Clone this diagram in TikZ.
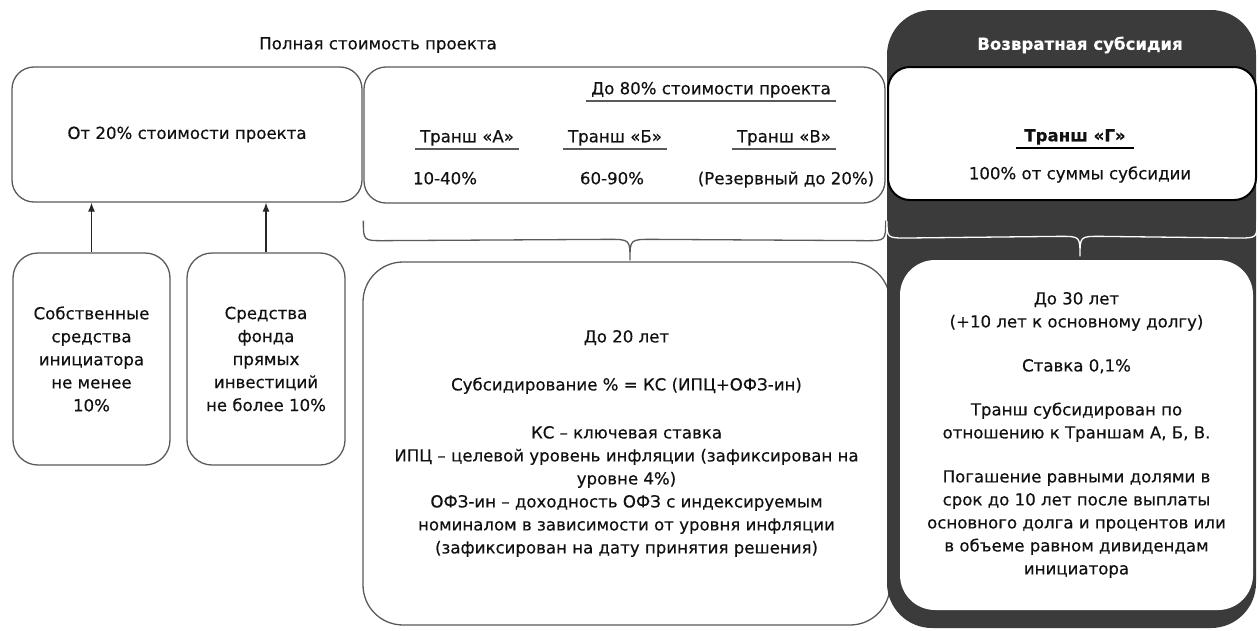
\documentclass[tikz,border=0pt]{standalone}
\usepackage{fontspec}
\setmainfont[FakeBold=0.35]{DejaVu Sans}
\usetikzlibrary{calc,positioning,arrows.meta}
\definecolor{panel}{HTML}{3B3B3B}
\definecolor{edge}{HTML}{5A5A5A}
\definecolor{ink}{HTML}{111111}

\begin{document}
\begin{tikzpicture}[x=1pt,y=-1pt]
  \tikzset{box/.style={draw=edge, line width=1.3pt, rounded corners=22pt,
      fill=white, align=center, inner sep=0pt, text=ink},
    every node/.style={font=\fontsize{16.6}{23}\selectfont},
    lbl/.style={text=ink, inner xsep=5pt, inner ysep=3pt,
      text height=12pt, text depth=3.5pt},
    uline/.style={draw=edge, line width=1.4pt},
    brace/.style={draw=edge, line width=1.3pt},
    arr/.style={-{Latex[length=9pt,width=7pt]}, draw=black!85, line width=1.2pt}}
  \useasboundingbox (0,0) rectangle (1258,630);

  \node[text=ink] (total) at (378,45) {Полная стоимость проекта};
  \node[box, minimum width=350pt, minimum height=135pt] (own) at (187,134.5)
    {От 20\% стоимости проекта};
  \node[box, minimum width=521pt, minimum height=136pt] (tr) at (624.5,135) {};

  \node[box, rounded corners=25pt, minimum width=157pt, minimum height=212pt] (s1) at (91.5,359)
    {Собственные\\средства\\инициатора\\не менее\\10\%};
  \node[box, rounded corners=25pt, minimum width=158pt, minimum height=212pt] (s2) at (266,359)
    {Средства\\фонда\\прямых\\инвестиций\\не более 10\%};
  \draw[arr] (s1) -- (s1 |- own.south);
  \draw[arr] (s2) -- (s2 |- own.south);

  \node[lbl] (h80) at (711,90) {До 80\% стоимости проекта};
  \node[lbl] (ta) at (467,138) {Транш «А»};
  \node[lbl] (tb) at (615,138) {Транш «Б»};
  \node[lbl] (tc) at (784,138) {Транш «В»};
  \node[lbl] (pa) at (445,180) {10-40\%};
  \node[lbl] (pb) at (612,180) {60-90\%};
  \node[lbl] (pc) at (786,180) {(Резервный до 20\%)};
  \foreach \n in {h80,ta,tb,tc}
    \draw[uline] (\n.south west) -- (\n.south east);

  \node[box, rounded corners=40pt, minimum width=527pt, minimum height=363pt] (mid) at (626.5,443.5)
    {До 20 лет\\[25pt]
     Субсидирование \% = КС (ИПЦ+ОФЗ-ин)\\[25pt]
     КС – ключевая ставка\\
     ИПЦ – целевой уровень инфляции (зафиксирован на\\
     уровне 4\%)\\
     ОФЗ-ин – доходность ОФЗ с индексируемым\\
     номиналом в зависимости от уровня инфляции\\
     (зафиксирован на дату принятия решения)};

  \coordinate (bl) at ($(tr.south west)+(0,17)$);
  \coordinate (br) at ($(tr.south east)+(0,17)$);
  \coordinate (bt) at ($(mid.north)+(3.5,-1)$);
  \draw[brace] (bl) .. controls ($(bl)+(0,20)$) .. ($(bl)+(20,20)$)
    -- ($(bt)+(-22,-21)$) .. controls ($(bt)+(0,-21)$) .. (bt)
    .. controls ($(bt)+(0,-21)$) .. ($(bt)+(22,-21)$)
    -- ($(br)+(-20,20)$) .. controls ($(br)+(0,20)$) .. (br);

  \node[fill=panel, rounded corners=45pt, minimum width=369pt, minimum height=618pt,
    inner sep=0pt] (panel) at (1071.5,319) {};
  \node[text=white, font=\fontsize{16.6}{23}\selectfont\bfseries] (ret) at (1080,45)
    {Возвратная субсидия};
  \node[box, draw=black, line width=2pt, minimum width=368pt, minimum height=133pt] (gbox)
    at (1072,133.5) {};
  \node[lbl, font=\fontsize{16.6}{23}\selectfont\bfseries, inner xsep=8pt] (tg) at (1075,137) {Транш «Г»};
  \draw[draw=black, line width=1.4pt] (tg.south west) -- (tg.south east);
  \node[lbl] (pg) at (1080,175) {100\% от суммы субсидии};

  \node[box, draw=none, rounded corners=35pt, minimum width=353pt, minimum height=350pt] (rbox)
    at (1076.5,435)
    {До 30 лет\\
     (+10 лет к основному долгу)\\[21pt]
     Ставка 0,1\%\\[21pt]
     Транш субсидирован по\\
     отношению к Траншам А, Б, В.\\[21pt]
     Погашение равными долями в\\
     срок до 10 лет после выплаты\\
     основного долга и процентов или\\
     в объеме равном дивидендам\\
     инициатора};

  \coordinate (wl) at ($(gbox.south west)+(0,20)$);
  \coordinate (wr) at ($(gbox.south east)+(0,20)$);
  \coordinate (wt) at ($(rbox.north)+(3.5,-3)$);
  \draw[brace, draw=white] (wl) .. controls ($(wl)+(0,17)$) .. ($(wl)+(20,17)$)
    -- ($(wt)+(-20,-20)$) .. controls ($(wt)+(0,-20)$) .. (wt)
    .. controls ($(wt)+(0,-20)$) .. ($(wt)+(20,-20)$)
    -- ($(wr)+(-20,17)$) .. controls ($(wr)+(0,17)$) .. (wr);
\end{tikzpicture}
\end{document}
